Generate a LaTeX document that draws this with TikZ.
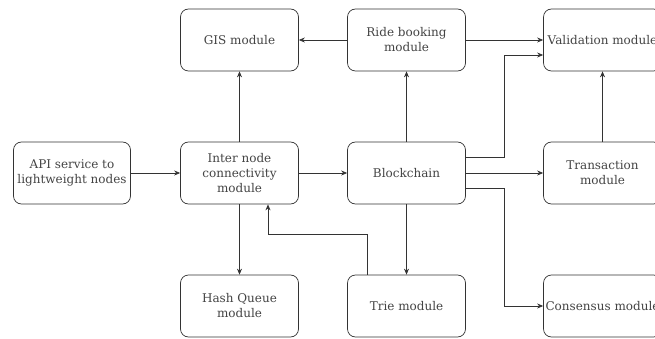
\documentclass[tikz,border=0pt]{standalone}
\usepackage{fontspec}
\setmainfont{DejaVu Serif}
\usetikzlibrary{arrows.meta}
\definecolor{edge}{HTML}{333333}
\definecolor{txt}{HTML}{444444}
\begin{document}
\begin{tikzpicture}[x=1pt,y=-1pt,
  box/.style={draw=edge,line width=0.7pt,rounded corners=8pt,fill=white,
    minimum width=118pt,minimum height=62pt,align=center,text=txt,
    font=\fontsize{12}{15}\selectfont,inner sep=1pt},
  arr/.style={draw=edge,line width=0.7pt,-{Stealth[length=6pt,width=5pt]}}]
\useasboundingbox (0,0) rectangle (655,339);
\clip (0,0) rectangle (655,339);
\node[box] (gis) at (239.5,40) {GIS module};
\node[box] (ride) at (406.5,40) {Ride booking\\module};
\node[box] (valid) at (602.5,40) {Validation module};
\node[box,minimum width=117pt] (api) at (72,173) {API service to\\lightweight nodes};
\node[box] (inter) at (239.5,173) {Inter node\\connectivity\\module};
\node[box] (block) at (406.5,173) {Blockchain};
\node[box] (trans) at (602.5,173) {Transaction\\module};
\node[box] (hash) at (239.5,306) {Hash Queue\\module};
\node[box] (trie) at (406.5,306) {Trie module};
\node[box] (cons) at (602.5,306) {Consensus module};
\coordinate (k) at (268,234);
\coordinate (b1) at (504,55);
\coordinate (b2) at (504,306);
\draw[arr] (api) -- (inter);
\draw[arr] (inter) -- (block);
\draw[arr] (inter.north) -- (gis.south);
\draw[arr] (inter.south) -- (hash.north);
\draw[arr] ([xshift=-39.5pt]trie.north) |- (k) -- (k |- inter.south);
\draw[arr] (block.south) -- (trie.north);
\draw[arr] (block.north) -- (ride.south);
\draw[arr] (ride.west) -- (gis.east);
\draw[arr] (ride.east) -- (valid.west);
\draw[arr] ([yshift=16pt]block.east) -| (b1) -- (b1 -| valid.west);
\draw[arr] (block.east) -- (trans.west);
\draw[arr] ([yshift=-15pt]block.east) -| (b2) -- (cons.west);
\draw[arr] (trans.north) -- (valid.south);
\end{tikzpicture}
\end{document}
